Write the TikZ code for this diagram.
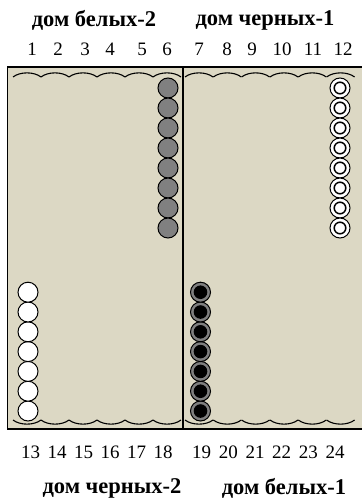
\documentclass[tikz,border=0pt]{standalone}
\usepackage{fontspec}
\setmainfont{Liberation Serif}
\begin{document}
\begin{tikzpicture}[x=1pt,y=-1pt,
  board/.style={fill=boardc,draw=black,line width=1.6pt},
  divider/.style={draw=black,line width=1.2pt},
  wave/.style={draw=black,line width=1.1pt},
  num/.style={font=\fontsize{19}{19}\selectfont,inner sep=0pt,anchor=center},
  ttl/.style={font=\bfseries\fontsize{22.5}{22.5}\selectfont,inner sep=0pt,anchor=center},
  grayck/.style={circle,draw=black,line width=1pt,fill=gray50,minimum size=20pt,inner sep=0pt},
  whiteck/.style={circle,draw=black,line width=1pt,fill=white,minimum size=20pt,inner sep=0pt},
  ringck/.style={circle,draw=black,line width=1pt,fill=white,minimum size=20pt,inner sep=0pt,
     path picture={\draw[line width=1.5pt,fill=white] (path picture bounding box.center) circle (5.8pt);}},
  blackck/.style={circle,draw=black,line width=1pt,fill=gray50,minimum size=20pt,inner sep=0pt,
     path picture={\fill[black] (path picture bounding box.center) circle (6.8pt);}},
]
\definecolor{boardc}{RGB}{220,216,196}
\definecolor{gray50}{RGB}{128,128,128}
\useasboundingbox (0,0) rectangle (361,500);
% board
\path[board] (7.5,67) rectangle (363,429);
\draw[divider] (183,67) -- (183,429);
% waves top
\foreach \x in {13,41,69,97,125,153, 185,213.3,241.6,270,298.3,326.6}{
  \draw[wave] (\x,77) .. controls (\x+7,71.5) and (\x+21,71.5) .. (\x+28,77);
}
% waves bottom
\foreach \x in {13,41,69,97,125,153, 185,213.3,241.6,270,298.3,326.6}{
  \draw[wave] (\x,420) .. controls (\x+7,425.5) and (\x+21,425.5) .. (\x+28,420);
}
% checkers
\foreach \i in {0,...,7}{
  \node[grayck] (g\i) at (168,88+20*\i) {};
  \node[ringck] (r\i) at (340,88+20*\i) {};
}
\foreach \i in {0,...,6}{
  \node[whiteck] (w\i) at (28,411-19.8*\i) {};
  \node[blackck] (b\i) at (200.5,411-19.8*\i) {};
}
% numbers top
\foreach \n/\x in {1/32,2/58,3/85,4/110,5/142,6/167,7/199,8/227,9/252,10/282,11/313,12/343}{
  \node[num] (t\n) at (\x,49) {\n};
}
% numbers bottom
\foreach \n/\x in {13/30.5,14/57,15/83.5,16/110,17/136.5,18/163,19/201.6,20/228.3,21/255,22/281.7,23/308.3,24/335}{
  \node[num] (t\n) at (\x,452) {\n};
}
% titles
\node[ttl] (h1) at (94,20) {дом белых-2};
\node[ttl] (h2) at (265,20) {дом черных-1};
\node[ttl] (h3) at (112,488) {дом черных-2};
\node[ttl] (h4) at (284,488) {дом белых-1};
\end{tikzpicture}
\end{document}
